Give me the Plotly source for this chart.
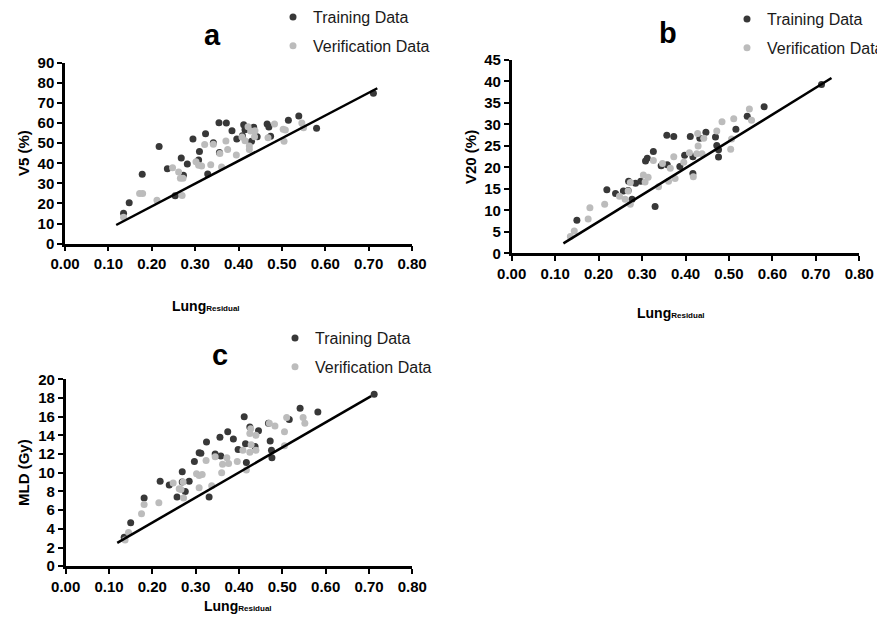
import plotly.graph_objects as go

# screen size and page offset (default body margin of the html page)
SCREEN_W, SCREEN_H = 885, 617
OFF = 8
W, H = SCREEN_W - OFF, SCREEN_H - OFF

# ---------------- data ----------------
x_ticks = [0.0, 0.1, 0.2, 0.3, 0.4, 0.5, 0.6, 0.7, 0.8]

# panel a: V5 (%)
a_train_x = [0.135,0.148,0.178,0.217,0.236,0.254,0.268,0.273,0.282,0.295,0.308,0.310,0.324,0.329,0.342,0.355,0.356,0.372,0.385,0.396,0.409,0.412,0.415,0.430,0.435,0.443,0.466,0.470,0.474,0.515,0.539,0.580,0.711]
a_train_y = [15.1,20.4,34.5,48.3,37.3,23.9,42.6,34.0,39.6,52.1,41.6,45.9,54.7,34.7,50.2,60.2,45.4,60.0,56.2,52.1,53.7,59.2,56.6,50.9,57.9,53.2,59.5,58.0,53.4,61.4,63.5,57.4,74.8]
a_ver_x = [0.135,0.172,0.179,0.212,0.248,0.262,0.266,0.272,0.270,0.302,0.308,0.315,0.322,0.336,0.342,0.357,0.361,0.371,0.375,0.395,0.408,0.415,0.422,0.425,0.425,0.428,0.437,0.438,0.468,0.483,0.503,0.508,0.505,0.546,0.550]
a_ver_y = [13.1,24.9,24.9,21.6,37.8,35.7,32.5,32.5,24.0,40.8,39.0,38.6,49.3,39.3,49.4,44.9,38.1,51.1,46.8,44.1,53.1,51.2,58.2,48.6,46.9,56.1,53.2,56.2,52.7,59.5,56.9,56.5,50.9,60.0,57.7]
a_fit_x = [0.118, 0.720]
a_fit_y = [9.3, 77.3]

# panel b: V20 (%)
b_train_x = [0.150,0.219,0.239,0.257,0.268,0.269,0.277,0.285,0.297,0.308,0.312,0.326,0.330,0.344,0.357,0.358,0.373,0.387,0.398,0.411,0.417,0.417,0.433,0.447,0.469,0.472,0.476,0.476,0.516,0.542,0.581,0.713]
b_train_y = [7.7,14.8,13.9,14.5,14.6,16.8,12.6,16.3,16.8,21.5,22.1,23.7,10.9,20.4,27.5,20.6,27.2,20.2,22.8,27.2,22.5,18.6,26.8,28.2,27.1,25.1,24.1,22.4,28.9,31.9,34.1,39.3]
b_ver_x = [0.135,0.144,0.176,0.180,0.214,0.248,0.261,0.268,0.273,0.273,0.303,0.307,0.314,0.326,0.338,0.347,0.361,0.365,0.373,0.376,0.396,0.409,0.418,0.426,0.428,0.429,0.438,0.442,0.472,0.484,0.504,0.506,0.511,0.547,0.552]
b_ver_y = [3.9,5.2,8.0,10.6,11.4,13.3,12.6,14.5,11.4,16.5,18.2,16.6,17.7,21.6,15.5,20.9,16.8,19.8,22.5,17.4,21.2,23.4,17.8,23.2,27.9,25.0,23.2,26.8,28.5,30.6,24.2,26.6,31.3,33.6,31.0]
b_fit_x = [0.119, 0.736]
b_fit_y = [2.3, 40.8]

# panel c: MLD (Gy)
c_train_x = [0.135,0.150,0.181,0.218,0.239,0.257,0.269,0.269,0.276,0.285,0.297,0.308,0.312,0.325,0.331,0.345,0.356,0.358,0.374,0.387,0.398,0.412,0.415,0.417,0.425,0.437,0.445,0.468,0.472,0.475,0.476,0.516,0.541,0.582,0.712]
c_train_y = [3.1,4.66,7.3,9.1,8.7,7.4,10.1,9.0,8.0,9.1,11.2,12.15,12.1,13.3,7.4,12.0,13.8,11.8,14.4,13.6,12.5,16.0,13.1,11.1,14.9,12.8,14.5,15.3,13.4,12.4,11.6,15.7,16.9,16.5,18.4]
c_ver_x = [0.137,0.145,0.175,0.181,0.215,0.248,0.262,0.266,0.271,0.272,0.302,0.308,0.315,0.308,0.324,0.337,0.345,0.360,0.362,0.372,0.376,0.396,0.409,0.417,0.425,0.425,0.427,0.428,0.439,0.439,0.470,0.483,0.505,0.505,0.510,0.548,0.552]
c_ver_y = [2.8,3.6,5.6,6.6,6.8,8.9,8.3,8.2,9.0,7.3,9.9,9.7,9.8,8.4,11.3,8.6,11.7,10.0,10.9,11.6,11.0,11.2,12.4,10.3,12.2,14.2,14.7,13.0,14.0,12.4,15.3,15.0,14.4,12.9,15.9,15.9,15.3]
c_fit_x = [0.119, 0.705]
c_fit_y = [2.5, 18.2]

panel_letters = ["a", "b", "c"]
y_titles = ["V5 (%)", "V20 (%)", "MLD (Gy)"]
y_ranges = [[0, 90], [0, 45], [0, 20]]
y_dticks = [10, 5, 2]
series_names = ["Training Data", "Verification Data"]

# ---------------- style ----------------
DARK = "#383838"
GREY = "#bcbcbc"
FONT = "Liberation Sans, Arial, sans-serif"

def px_x(p):
    return (p - OFF) / W

def px_y(p):
    return 1 - (p - OFF) / H

# plot-area boxes in screen pixels: (left, right, top, bottom)
boxes = [(65, 412, 62.7, 243.7), (511.7, 859.3, 60, 253.3), (65.7, 412.3, 379.3, 566.2)]

fig = go.Figure()

panels = [
    (a_train_x, a_train_y, a_ver_x, a_ver_y, a_fit_x, a_fit_y),
    (b_train_x, b_train_y, b_ver_x, b_ver_y, b_fit_x, b_fit_y),
    (c_train_x, c_train_y, c_ver_x, c_ver_y, c_fit_x, c_fit_y),
]
legend_names = ["legend", "legend2", "legend3"]

for i, (tx, ty, vx, vy, fx, fy) in enumerate(panels):
    xa = "x" if i == 0 else f"x{i+1}"
    ya = "y" if i == 0 else f"y{i+1}"
    fig.add_trace(go.Scatter(x=tx, y=ty, mode="markers", name=series_names[0],
                             marker=dict(color=DARK, size=7, line=dict(width=0)),
                             xaxis=xa, yaxis=ya, legend=legend_names[i],
                             legendgroup=f"t{i}"))
    fig.add_trace(go.Scatter(x=vx, y=vy, mode="markers", name=series_names[1],
                             marker=dict(color=GREY, size=7, line=dict(width=0)),
                             xaxis=xa, yaxis=ya, legend=legend_names[i],
                             legendgroup=f"v{i}"))
    fig.add_trace(go.Scatter(x=fx, y=fy, mode="lines", showlegend=False,
                             line=dict(color="black", width=2.5),
                             xaxis=xa, yaxis=ya))

axis_common = dict(showline=True, linecolor="black", linewidth=2.5, ticks="outside",
                   ticklen=5, tickwidth=2, tickcolor="black", showgrid=False,
                   zeroline=False, fixedrange=True, automargin=False,
                   tickfont=dict(family=FONT, size=15, color="black", weight="bold"))

layout = dict(width=W, height=H,
              margin=dict(l=0, r=0, t=0, b=0, pad=0, autoexpand=False),
              paper_bgcolor="white", plot_bgcolor="white", showlegend=True)

for i, (l, r, t, b) in enumerate(boxes):
    xk = "xaxis" if i == 0 else f"xaxis{i+1}"
    yk = "yaxis" if i == 0 else f"yaxis{i+1}"
    ya = "y" if i == 0 else f"y{i+1}"
    xa = "x" if i == 0 else f"x{i+1}"
    layout[xk] = dict(axis_common, domain=[px_x(l), px_x(r)], range=[0, 0.8],
                      tickvals=x_ticks, tickformat=".2f", anchor=ya)
    layout[yk] = dict(axis_common, domain=[px_y(b), px_y(t)], range=y_ranges[i],
                      dtick=y_dticks[i], tick0=0, anchor=xa)

# legend top-left corners in screen pixels
legend_pos = [(273, 0), (727, 2), (275, 321)]
for i, (lx, ly) in enumerate(legend_pos):
    layout[legend_names[i]] = dict(x=px_x(lx), y=px_y(ly), xanchor="left", yanchor="top",
                                   bgcolor="rgba(0,0,0,0)", tracegroupgap=5,
                                   font=dict(family=FONT, size=16, color="#1a1a1a"),
                                   itemsizing="trace")

fig.update_layout(**layout)

# panel letters
letter_pos = [(212, 35), (668, 33), (220, 355)]
for i, (lx, ly) in enumerate(letter_pos):
    fig.add_annotation(text="<b>" + panel_letters[i] + "</b>", x=px_x(lx), y=px_y(ly),
                       xref="paper", yref="paper", showarrow=False,
                       xanchor="center", yanchor="middle",
                       font=dict(family=FONT, size=29, color="black"))

# y titles
ytitle_pos = [(23, 153), (470, 157), (23, 473)]
for i, (lx, ly) in enumerate(ytitle_pos):
    fig.add_annotation(text="<b>" + y_titles[i] + "</b>", x=px_x(lx), y=px_y(ly),
                       xref="paper", yref="paper", showarrow=False, textangle=-90,
                       xanchor="center", yanchor="middle",
                       font=dict(family=FONT, size=15, color="black"))

# x titles
xtitle = "<b>Lung<span style='font-size:8px'>Residual</span></b>"
xtitle_pos = [(206, 306), (671, 313), (238, 606)]
for (lx, ly) in xtitle_pos:
    fig.add_annotation(text=xtitle, x=px_x(lx), y=px_y(ly), xref="paper", yref="paper",
                       showarrow=False, xanchor="center", yanchor="middle",
                       font=dict(family=FONT, size=14, color="black"))

fig.write_html("out.html")
